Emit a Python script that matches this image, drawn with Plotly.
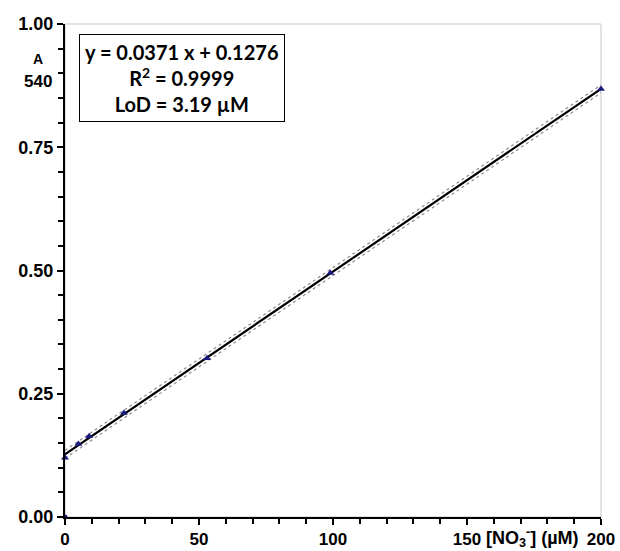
import numpy as np
import plotly.graph_objects as go

# Data
conc_uM = [0, 5, 9, 22, 53, 99, 200]
absorbance = [0.120, 0.148, 0.164, 0.211, 0.322, 0.495, 0.868]
blank_x = [0]
blank_y = [0.0]
band_halfwidth = 0.008

eq_lines = ["y = 0.0371 x + 0.1276", "R<sup>2</sup> = 0.9999", "LoD = 3.19 \u00b5M"]
y_ticks = [0.0, 0.25, 0.5, 0.75, 1.0]
x_ticks = [0, 50, 100, 150, 200]

slope, intercept = np.polyfit(conc_uM, absorbance, 1)
xf = np.array([min(conc_uM), max(conc_uM)])
yf = slope * xf + intercept

fig = go.Figure()
for off in (-band_halfwidth, band_halfwidth):
    fig.add_trace(go.Scatter(x=xf, y=yf + off, mode="lines",
                             line=dict(color="#8c8c8c", width=1.2, dash="dot"),
                             hoverinfo="skip", showlegend=False))
fig.add_trace(go.Scatter(x=xf, y=yf, mode="lines",
                         line=dict(color="black", width=2.2), showlegend=False))
fig.add_trace(go.Scatter(x=conc_uM, y=absorbance, mode="markers",
                         marker=dict(symbol="triangle-up", size=7, color="#1a1a80"),
                         cliponaxis=False, showlegend=False))
fig.add_trace(go.Scatter(x=blank_x, y=blank_y, mode="markers",
                         marker=dict(symbol="circle", size=5, color="#1a1a80"),
                         cliponaxis=False, showlegend=False))

ARIAL = "Liberation Sans"
fig.update_layout(
    width=620, height=551,
    margin=dict(l=65, r=19, t=24, b=34, autoexpand=False),
    paper_bgcolor="white", plot_bgcolor="white",
    font=dict(family=ARIAL, color="black"),
    xaxis=dict(range=[0, 200], tickvals=x_ticks, automargin=False,
               ticktext=[str(v) for v in x_ticks],
               tickfont=dict(family=ARIAL, size=17, color="black", weight="bold"),
               showgrid=False, zeroline=False,
               showline=True, linecolor="black", linewidth=2,
               ticks="outside", ticklen=6, tickwidth=1.5, tickcolor="black",
               minor=dict(dtick=10, ticks="outside", ticklen=5, tickwidth=1.5, tickcolor="black")),
    yaxis=dict(range=[0, 1.0], tickvals=y_ticks, automargin=False,
               ticktext=[f"{v:.2f}" for v in y_ticks],
               tickfont=dict(family=ARIAL, size=18, color="black", weight="bold"),
               showgrid=False, zeroline=False,
               showline=True, linecolor="black", linewidth=2,
               ticks="outside", ticklen=6, tickwidth=1.5, tickcolor="black",
               minor=dict(dtick=0.05, ticks="outside", ticklen=5, tickwidth=1.5, tickcolor="black")),
    shapes=[dict(type="rect", xref="paper", yref="paper", x0=0, x1=1, y0=0, y1=1,
                 line=dict(color="#c8c8c8", width=1), layer="below")],
)

fig.add_annotation(xref="paper", yref="paper", x=0.027, y=0.98, xanchor="left", yanchor="top",
                   text="<br>".join(eq_lines), showarrow=False,
                   align="center", font=dict(family="Lato", size=20, color="black", weight="bold"),
                   bordercolor="black", borderwidth=1, borderpad=5, bgcolor="white")
fig.add_annotation(xref="paper", yref="paper", x=-0.05, y=0.93, xanchor="center", yanchor="middle",
                   text="A", showarrow=False,
                   font=dict(family=ARIAL, size=14, color="black", weight="bold"))
fig.add_annotation(xref="paper", yref="paper", x=-0.05, y=0.884, xanchor="center", yanchor="middle",
                   text="540", showarrow=False,
                   font=dict(family=ARIAL, size=17, color="black", weight="bold"))
fig.add_annotation(xref="paper", yref="paper", x=0.873, y=-0.042, xanchor="center", yanchor="middle",
                   text="[NO<sub>3</sub><sup>-</sup>] (\u00b5M)", showarrow=False,
                   font=dict(family=ARIAL, size=18, color="black", weight="bold"))

fig.write_html("out.html", config={"displayModeBar": False},
               post_script="document.body.style.margin='0';document.body.style.padding='0';document.body.style.overflow='hidden';")
